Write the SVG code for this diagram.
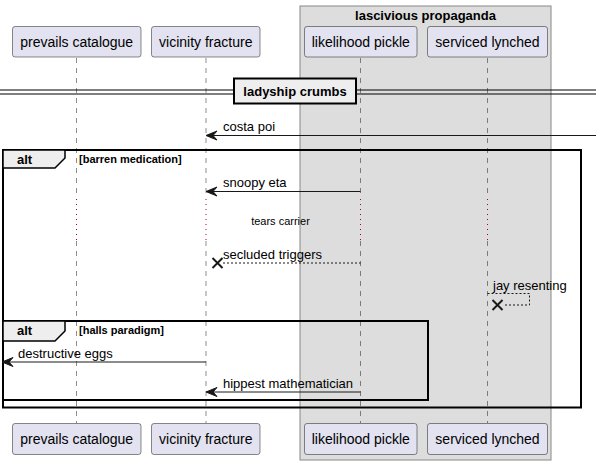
<svg xmlns="http://www.w3.org/2000/svg" width="596" height="465" viewBox="0 0 596 465">
<style>
text{font-family:"Liberation Sans",Arial,sans-serif;fill:#000}
.pbox{fill:#E2E2F0;stroke:#181818;stroke-width:0.5}
.pname{font-size:14px;text-anchor:middle}
.life{stroke:#181818;stroke-width:0.5;stroke-dasharray:5,5}
.delay{stroke:#A80036;stroke-width:1;stroke-dasharray:1,4}
.msg{stroke:#181818;stroke-width:1;fill:none}
.dash{stroke:#181818;stroke-width:1;fill:none;stroke-dasharray:2,2}
.mtext{font-size:13px}
.frame{fill:none;stroke:#000;stroke-width:2}
.tab{fill:#EEEEEE;stroke:#000;stroke-width:1.5}
.alt{font-size:13px;font-weight:bold}
.cond{font-size:11px;font-weight:bold}
.head{fill:#181818;stroke:#181818;stroke-width:1}
.x{stroke:#181818;stroke-width:2}
</style>
<g id="group-lascivious-propaganda">
<rect x="300" y="6" width="251" height="454" fill="#DDDDDD" stroke="#888888" stroke-width="1"/>
<text x="425.5" y="19.5" text-anchor="middle" font-size="13" font-weight="bold">lascivious propaganda</text>
</g>
<g id="lifelines">
<line class="life" x1="76.5" y1="58" x2="76.5" y2="198"/>
<line class="life" x1="76.5" y1="241" x2="76.5" y2="423"/>
<line class="life" x1="206" y1="58" x2="206" y2="198"/>
<line class="life" x1="206" y1="241" x2="206" y2="423"/>
<line class="life" x1="360.5" y1="58" x2="360.5" y2="198"/>
<line class="life" x1="360.5" y1="241" x2="360.5" y2="423"/>
<line class="life" x1="487.5" y1="58" x2="487.5" y2="198"/>
<line class="life" x1="487.5" y1="241" x2="487.5" y2="423"/>
<line class="delay" x1="76.5" y1="199" x2="76.5" y2="240"/>
<line class="delay" x1="206" y1="199" x2="206" y2="240"/>
<line class="delay" x1="360.5" y1="199" x2="360.5" y2="240"/>
<line class="delay" x1="487.5" y1="199" x2="487.5" y2="240"/>
</g>
<g id="prevails-catalogue">
<rect class="pbox" x="12.5" y="26.5" width="128.5" height="30.5" rx="2.5"/>
<text class="pname" x="76.75" y="47">prevails catalogue</text>
<rect class="pbox" x="12.5" y="423.5" width="128.5" height="31" rx="2.5"/>
<text class="pname" x="76.75" y="444">prevails catalogue</text>
</g>
<g id="vicinity-fracture">
<rect class="pbox" x="151.5" y="26.5" width="108.5" height="30.5" rx="2.5"/>
<text class="pname" x="205.75" y="47">vicinity fracture</text>
<rect class="pbox" x="151.5" y="423.5" width="108.5" height="31" rx="2.5"/>
<text class="pname" x="205.75" y="444">vicinity fracture</text>
</g>
<g id="likelihood-pickle">
<rect class="pbox" x="304.5" y="26.5" width="112.5" height="30.5" rx="2.5"/>
<text class="pname" x="360.75" y="47">likelihood pickle</text>
<rect class="pbox" x="304.5" y="423.5" width="112.5" height="31" rx="2.5"/>
<text class="pname" x="360.75" y="444">likelihood pickle</text>
</g>
<g id="serviced-lynched">
<rect class="pbox" x="427.5" y="26.5" width="120" height="30.5" rx="2.5"/>
<text class="pname" x="487.5" y="47">serviced lynched</text>
<rect class="pbox" x="427.5" y="423.5" width="120" height="31" rx="2.5"/>
<text class="pname" x="487.5" y="444">serviced lynched</text>
</g>
<g id="divider-ladyship-crumbs">
<line x1="0" y1="90" x2="596" y2="90" stroke="#000" stroke-width="1"/>
<line x1="0" y1="94" x2="596" y2="94" stroke="#000" stroke-width="1"/>
<rect x="234" y="78.5" width="122" height="25" fill="#EEEEEE" stroke="#000" stroke-width="2"/>
<text x="295" y="96" text-anchor="middle" font-size="13" font-weight="bold">ladyship crumbs</text>
</g>
<g id="frames">
<rect class="frame" x="3" y="150" width="578" height="257.5"/>
<path class="tab" d="M3,150 H65 V158 L55,168 H3 Z"/>
<text class="alt" x="17" y="164">alt</text>
<text class="cond" x="79" y="163">[barren medication]</text>
<rect class="frame" x="3" y="321" width="425" height="79"/>
<path class="tab" d="M3,321 H65 V331 L55,341 H3 Z"/>
<text class="alt" x="17" y="335">alt</text>
<text class="cond" x="79" y="334">[halls paradigm]</text>
</g>
<g id="connectors">
<line class="msg" x1="207" y1="135.5" x2="596" y2="135.5"/>
<polygon class="head" points="206,135.5 217,131 213,135.5 217,140"/>
<text class="mtext" x="223" y="131">costa poi</text>

<line class="msg" x1="207" y1="191.5" x2="360.5" y2="191.5"/>
<polygon class="head" points="206,191.5 217,187 213,191.5 217,196"/>
<text class="mtext" x="223" y="187">snoopy eta</text>

<text x="280.5" y="225" text-anchor="middle" font-size="11">tears carrier</text>

<line class="dash" x1="223" y1="263" x2="360.5" y2="263"/>
<line class="x" x1="212.5" y1="258" x2="222.5" y2="268"/>
<line class="x" x1="212.5" y1="268" x2="222.5" y2="258"/>
<text class="mtext" x="223" y="258.5">secluded triggers</text>

<polyline class="dash" points="487.5,293.5 529.5,293.5 529.5,305 503,305"/>
<line class="x" x1="492.5" y1="300" x2="502.5" y2="310"/>
<line class="x" x1="492.5" y1="310" x2="502.5" y2="300"/>
<text class="mtext" x="493" y="289.5">jay resenting</text>

<line class="msg" x1="3" y1="362" x2="206" y2="362"/>
<polygon class="head" points="2,362 13,357.5 9,362 13,366.5"/>
<text class="mtext" x="18" y="357.5">destructive eggs</text>

<line class="msg" x1="207" y1="392" x2="360.5" y2="392"/>
<polygon class="head" points="206,392 217,387.5 213,392 217,396.5"/>
<text class="mtext" x="223" y="387.5">hippest mathematician</text>
</g>
</svg>
